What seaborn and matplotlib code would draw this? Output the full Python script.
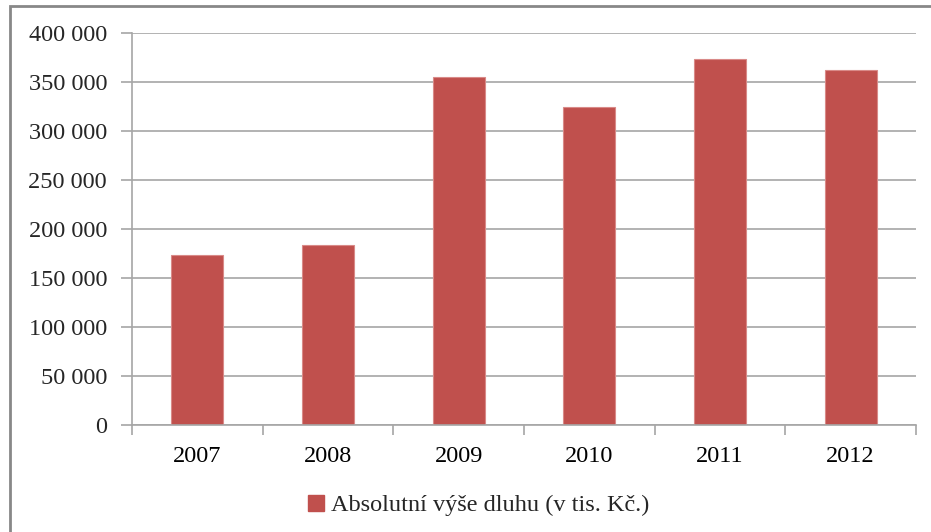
import matplotlib
matplotlib.use("Agg")
import matplotlib.pyplot as plt
import seaborn as sns
import pandas as pd
from matplotlib.patches import Rectangle, Patch
from matplotlib.ticker import FuncFormatter, MultipleLocator

# data
roky = ["2007", "2008", "2009", "2010", "2011", "2012"]
dluh = [173000, 183500, 355000, 324000, 373000, 362000]
popisek = "Absolutní výše dluhu (v tis. Kč.)"

df = pd.DataFrame({"rok": roky, "dluh": dluh})

sns.set_theme(style="white")
plt.rcParams["font.family"] = ["Liberation Serif", "DejaVu Serif"]

barva = "#C0504D"
seda = "#A6A6A6"
velikost = 17.5

fig = plt.figure(figsize=(9.31, 5.32), dpi=100)
ax = fig.add_axes([0.1418, 0.2011, 0.8421, 0.7369])

sns.barplot(data=df, x="rok", y="dluh", color=barva, width=0.4,
            edgecolor="#D98A88", linewidth=0.8, saturation=1, ax=ax)

ax.set_ylim(0, 400000)
ax.set_xlim(-0.5, 5.5)
ax.yaxis.set_major_locator(MultipleLocator(50000))
ax.yaxis.set_major_formatter(FuncFormatter(lambda v, p: f"{v:,.0f}".replace(",", " ")))
ax.grid(axis="y", color=seda, linewidth=1.2)
ax.set_axisbelow(True)
ax.set_xlabel("")
ax.set_ylabel("")

# ticks between the categories, like in Excel
ax.set_xticks([i - 0.5 for i in range(7)], minor=False)
ax.set_xticklabels([])
ax.set_xticks(range(6), minor=True)
ax.set_xticklabels(roky, minor=True)
ax.tick_params(axis="x", which="major", length=7, width=1.2, color=seda, direction="out", bottom=True)
ax.tick_params(axis="x", which="minor", length=0, pad=15, labelsize=velikost, labelcolor="black")
ax.tick_params(axis="y", length=8, width=1.2, color=seda, direction="out", left=True,
               labelsize=velikost, pad=10)

for s in ["top", "right"]:
    ax.spines[s].set_visible(False)
for s in ["left", "bottom"]:
    ax.spines[s].set_color(seda)
    ax.spines[s].set_linewidth(1.2)

fig.legend(handles=[Patch(facecolor=barva, edgecolor=barva, label=popisek)],
           loc="center", bbox_to_anchor=(0.5145, 0.05), frameon=False,
           fontsize=velikost, handlelength=0.65, handleheight=0.65, handletextpad=0.3)

# outer frame of the chart
fig.patches.append(Rectangle((9.5 / 931, -0.1), 1.1, 1.1 - 6 / 532,
                             transform=fig.transFigure, fill=False,
                             edgecolor="#888888", linewidth=2))

fig.savefig("out.png", dpi=100, facecolor="white")
